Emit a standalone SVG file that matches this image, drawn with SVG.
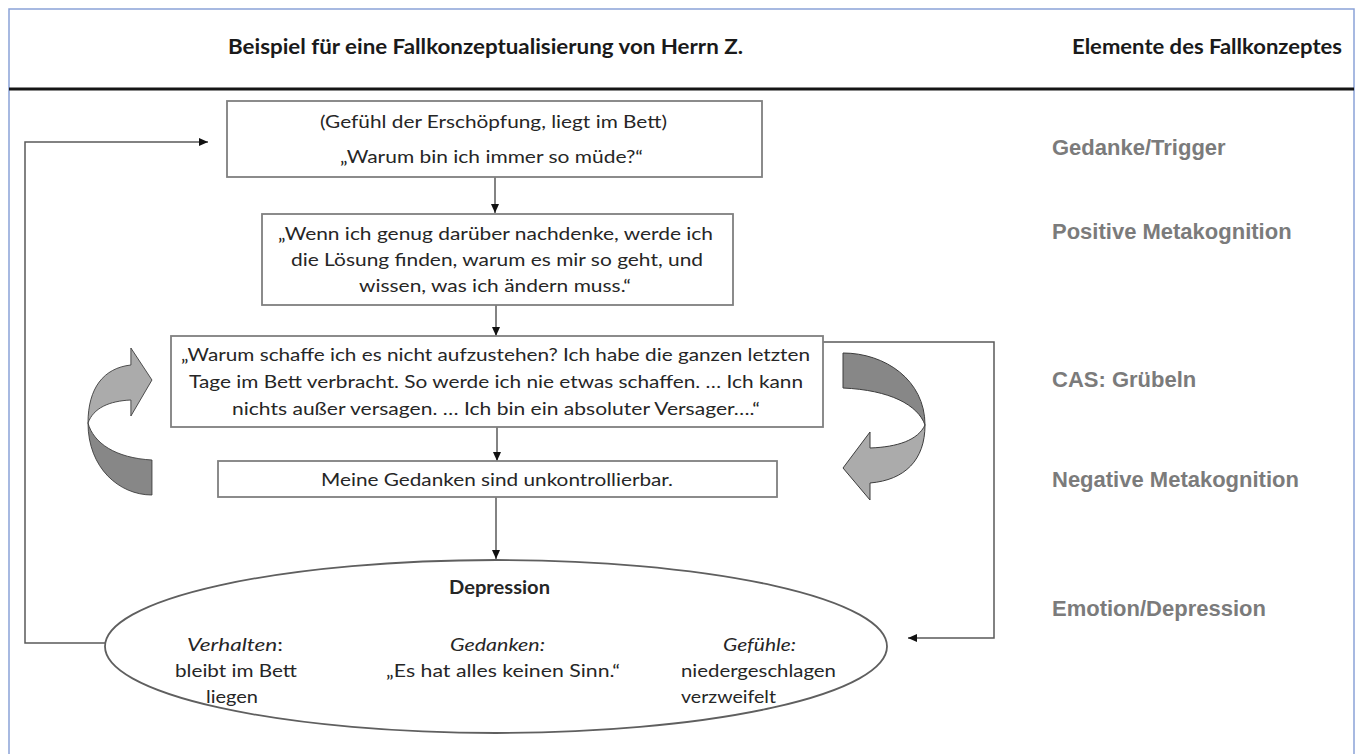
<svg xmlns="http://www.w3.org/2000/svg" xmlns:xlink="http://www.w3.org/1999/xlink" width="1360" height="754" viewBox="0 0 1360 754">
<style>
.box{fill:#fff;stroke:#7f7f7f;stroke-width:1.8}
.t{font-family:Lato,"Noto Sans","Liberation Sans",sans-serif;font-size:18px;fill:#262626}
.b{font-weight:bold}
.i{font-style:italic}
.hd{font-family:Lato,"Liberation Sans",sans-serif;font-size:21px;font-weight:bold;fill:#1a1a1a}
.lab{font-family:"Liberation Sans",Arial,sans-serif;font-size:22px;font-weight:bold;fill:#7b7b7b}
.con{fill:none;stroke:#5a5a5a;stroke-width:1.5}
.dark{fill:#878787;stroke:#3c3c3c;stroke-width:1}
.light{fill:#ababab;stroke:#3c3c3c;stroke-width:1}
</style>
<defs>
<marker id="ah" markerUnits="userSpaceOnUse" markerWidth="9" markerHeight="8" refX="9" refY="4" orient="auto">
<path d="M0,0 L9,4 L0,8 Z" fill="#111"/>
</marker>
<g id="curl">
<path class="dark" d="M843,353 C885,353 925,380 925,425 C918,405 890,390 843,388 Z"/>
<path class="light" d="M870,448 L870,432 L843,468 L870,500 L870,483 C905,480 925,460 925,425 C918,440 898,447 870,448 Z"/>
</g>
</defs>
<rect width="1360" height="754" fill="#fff"/>
<!-- frame -->
<path d="M9,754 L9,9 L1354,9 L1354,754" fill="none" stroke="#8aa2d8" stroke-width="1.5"/>
<line x1="9" y1="89" x2="1354" y2="89" stroke="#151515" stroke-width="3"/>
<text class="hd" x="228" y="54" textLength="515" lengthAdjust="spacingAndGlyphs">Beispiel für eine Fallkonzeptualisierung von Herrn Z.</text>
<text class="hd" x="1072" y="54" textLength="270" lengthAdjust="spacingAndGlyphs">Elemente des Fallkonzeptes</text>
<!-- right labels -->
<g id="labels">
<text class="lab" x="1052" y="155">Gedanke/Trigger</text>
<text class="lab" x="1052" y="239">Positive Metakognition</text>
<text class="lab" x="1052" y="387">CAS: Grübeln</text>
<text class="lab" x="1052" y="487">Negative Metakognition</text>
<text class="lab" x="1052" y="616">Emotion/Depression</text>
</g>
<!-- connectors -->
<g id="connectors">
<line class="con" x1="495" y1="177" x2="495" y2="213" marker-end="url(#ah)"/>
<line class="con" x1="496" y1="305" x2="496" y2="336" marker-end="url(#ah)"/>
<line class="con" x1="497" y1="427" x2="497" y2="461" marker-end="url(#ah)"/>
<line class="con" x1="496" y1="497" x2="496" y2="559" marker-end="url(#ah)"/>
<polyline class="con" points="106,643 25,643 25,142 208,142" marker-end="url(#ah)"/>
<polyline class="con" points="823,342 994,342 994,638 908,638" marker-end="url(#ah)"/>
<line class="con" x1="498" y1="600" x2="284" y2="631" marker-end="url(#ah)"/>
<line class="con" x1="498" y1="600" x2="498" y2="631" marker-end="url(#ah)"/>
<line class="con" x1="498" y1="600" x2="711" y2="634" marker-end="url(#ah)"/>
</g>
<!-- curved arrows -->
<g id="curl-right"><use xlink:href="#curl"/></g>
<g id="curl-left"><use xlink:href="#curl" transform="matrix(-0.78,0,0,-1,809.5,848)"/></g>
<!-- nodes -->
<g id="n-trigger">
<rect class="box" x="227" y="101" width="535" height="76"/>
<text class="t" x="493.5" y="128" text-anchor="middle" textLength="347" lengthAdjust="spacingAndGlyphs">(Gefühl der Erschöpfung, liegt im Bett)</text>
<text class="t" x="491.5" y="163" text-anchor="middle" textLength="303" lengthAdjust="spacingAndGlyphs">„Warum bin ich immer so müde?“</text>
</g>
<g id="n-positive">
<rect class="box" x="262" y="214" width="471" height="91"/>
<text class="t" x="495.5" y="240" text-anchor="middle" textLength="435" lengthAdjust="spacingAndGlyphs">„Wenn ich genug darüber nachdenke, werde ich</text>
<text class="t" x="497" y="266" text-anchor="middle" textLength="412" lengthAdjust="spacingAndGlyphs">die Lösung finden, warum es mir so geht, und</text>
<text class="t" x="495" y="292" text-anchor="middle" textLength="272" lengthAdjust="spacingAndGlyphs">wissen, was ich ändern muss.“</text>
</g>
<g id="n-cas">
<rect class="box" x="171" y="336" width="652" height="91"/>
<text class="t" x="495.5" y="361" text-anchor="middle" textLength="629" lengthAdjust="spacingAndGlyphs">„Warum schaffe ich es nicht aufzustehen? Ich habe die ganzen letzten</text>
<text class="t" x="496" y="388" text-anchor="middle" textLength="614" lengthAdjust="spacingAndGlyphs">Tage im Bett verbracht. So werde ich nie etwas schaffen. … Ich kann</text>
<text class="t" x="496" y="415" text-anchor="middle" textLength="528" lengthAdjust="spacingAndGlyphs">nichts außer versagen. … Ich bin ein absoluter Versager….“</text>
</g>
<g id="n-negative">
<rect class="box" x="218" y="461" width="559" height="36"/>
<text class="t" x="497" y="486" text-anchor="middle" textLength="352" lengthAdjust="spacingAndGlyphs">Meine Gedanken sind unkontrollierbar.</text>
</g>
<g id="n-depression">
<ellipse cx="496" cy="646.5" rx="391" ry="86.5" fill="#fff" stroke="#5f5f5f" stroke-width="1.8"/>
<text class="t b" x="499.5" y="594" text-anchor="middle" textLength="101" lengthAdjust="spacingAndGlyphs">Depression</text>
<text class="t" x="235" y="651" text-anchor="middle" textLength="96" lengthAdjust="spacingAndGlyphs"><tspan class="i">Verhalten</tspan>:</text>
<text class="t" x="236" y="677" text-anchor="middle" textLength="122" lengthAdjust="spacingAndGlyphs">bleibt im Bett</text>
<text class="t" x="232" y="703" text-anchor="middle" textLength="52" lengthAdjust="spacingAndGlyphs">liegen</text>
<text class="t i" x="497.5" y="651" text-anchor="middle" textLength="95" lengthAdjust="spacingAndGlyphs">Gedanken:</text>
<text class="t" x="503" y="677" text-anchor="middle" textLength="234" lengthAdjust="spacingAndGlyphs">„Es hat alles keinen Sinn.“</text>
<text class="t i" x="723" y="651" textLength="73" lengthAdjust="spacingAndGlyphs">Gefühle:</text>
<text class="t" x="681" y="677" textLength="155" lengthAdjust="spacingAndGlyphs">niedergeschlagen</text>
<text class="t" x="681" y="703" textLength="95" lengthAdjust="spacingAndGlyphs">verzweifelt</text>
</g>
</svg>
